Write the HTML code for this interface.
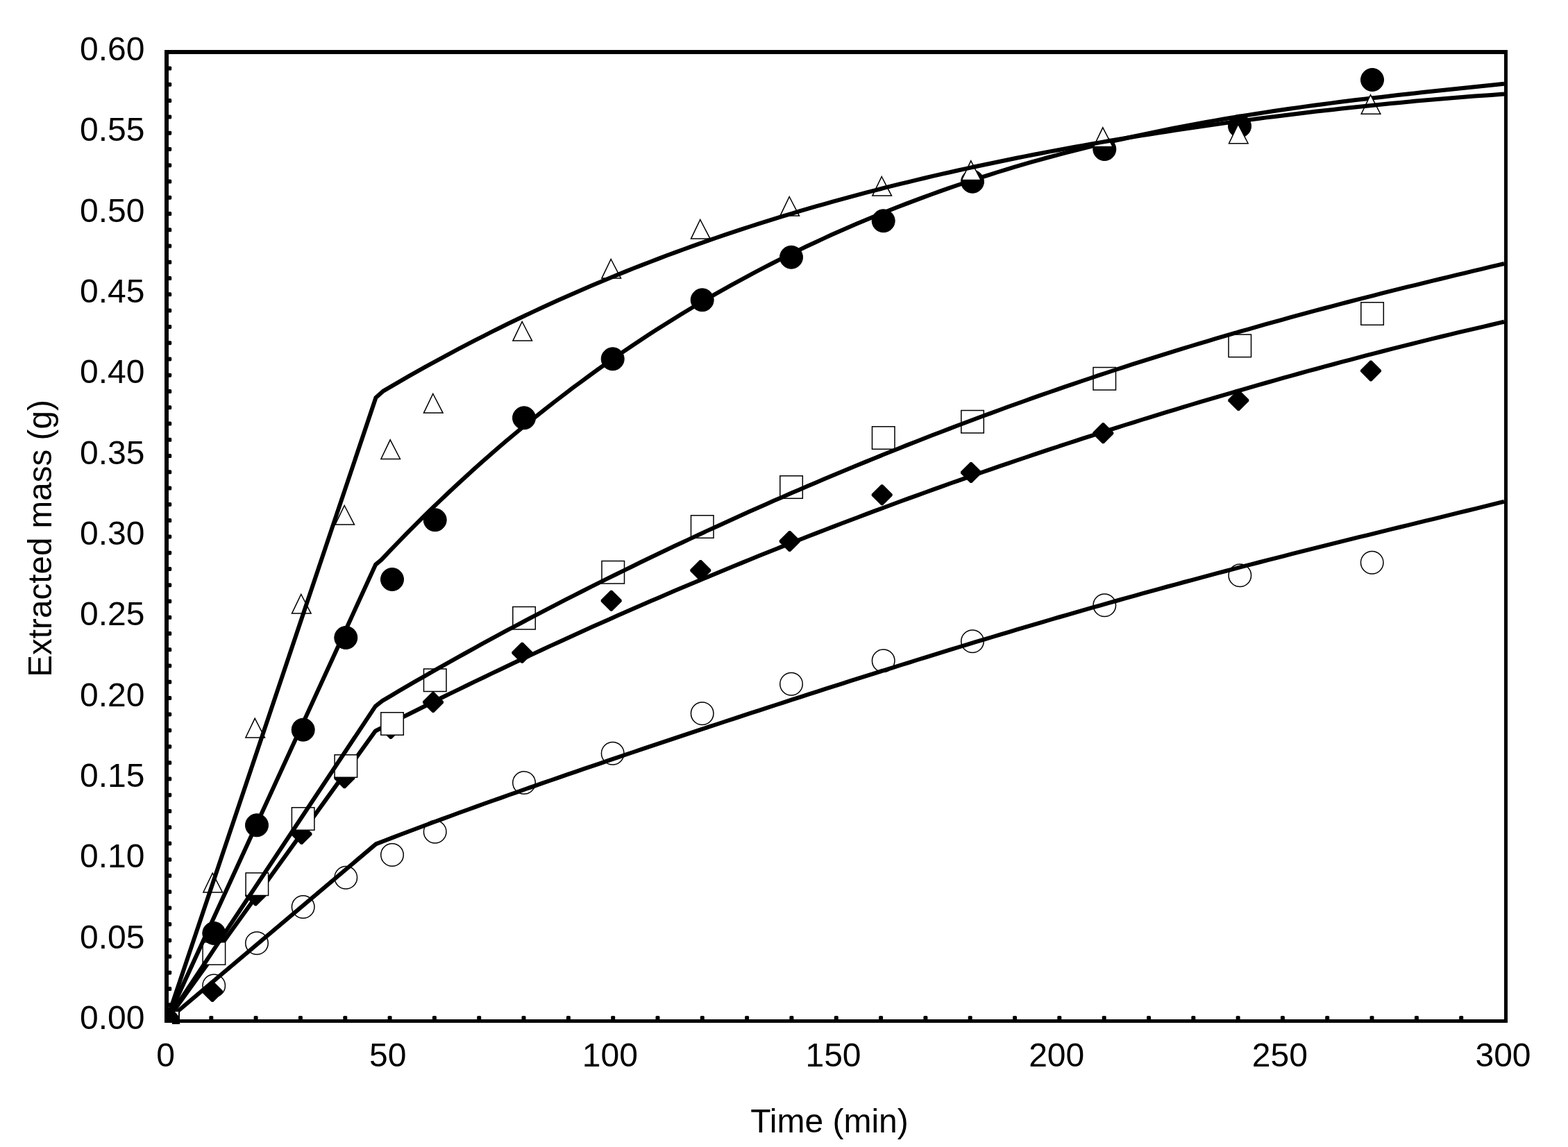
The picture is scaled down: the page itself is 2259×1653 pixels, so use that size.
<!DOCTYPE html>
<html lang="en"><head><meta charset="utf-8"><title>Extracted mass vs time</title>
<style>
html,body{margin:0;padding:0;background:#fff;}
body{width:2259px;height:1653px;overflow:hidden;}
svg{display:block;}
text{font-family:"Liberation Sans",sans-serif;fill:#000;}
</style></head>
<body>
<svg width="2259" height="1653" viewBox="0 0 2259 1653">
<rect x="0" y="0" width="2259" height="1653" fill="#fff"/>
<g font-size="48" text-anchor="end">
<text x="208.5" y="1483">0.00</text>
<text x="208.5" y="1366.7">0.05</text>
<text x="208.5" y="1250.3">0.10</text>
<text x="208.5" y="1134">0.15</text>
<text x="208.5" y="1017.7">0.20</text>
<text x="208.5" y="901.3">0.25</text>
<text x="208.5" y="785">0.30</text>
<text x="208.5" y="668.7">0.35</text>
<text x="208.5" y="552.3">0.40</text>
<text x="208.5" y="436">0.45</text>
<text x="208.5" y="319.7">0.50</text>
<text x="208.5" y="203.3">0.55</text>
<text x="208.5" y="87">0.60</text>
</g>
<g font-size="48" text-anchor="middle">
<text x="238.5" y="1537">0</text>
<text x="558.7" y="1537">50</text>
<text x="878.8" y="1537">100</text>
<text x="1200.5" y="1537">150</text>
<text x="1522.2" y="1537">200</text>
<text x="1843.8" y="1537">250</text>
<text x="2165.5" y="1537">300</text>
</g>
<text x="1195" y="1632" font-size="48" text-anchor="middle">Time (min)</text>
<text transform="translate(74 776) rotate(-90) scale(0.992 1)" font-size="48" text-anchor="middle">Extracted mass (g)</text>
<clipPath id="pc"><rect x="237" y="72" width="1936" height="1402"/></clipPath>
<g clip-path="url(#pc)">
<g fill="#fff" stroke="#000" stroke-width="1.5">
<circle cx="308.2" cy="1420.5" r="16.25"/>
<circle cx="370" cy="1359.3" r="16.25"/>
<circle cx="436.7" cy="1307" r="16.25"/>
<circle cx="498.3" cy="1264.7" r="16.25"/>
<circle cx="565" cy="1232" r="16.25"/>
<circle cx="626.7" cy="1198.7" r="16.25"/>
<circle cx="755" cy="1128" r="16.25"/>
<circle cx="882.7" cy="1085.7" r="16.25"/>
<circle cx="1011.7" cy="1028.3" r="16.25"/>
<circle cx="1140" cy="985.7" r="16.25"/>
<circle cx="1272.7" cy="952.3" r="16.25"/>
<circle cx="1401" cy="924.3" r="16.25"/>
<circle cx="1591.3" cy="872.3" r="16.25"/>
<circle cx="1786.3" cy="829.3" r="16.25"/>
<circle cx="1976.7" cy="810.7" r="16.25"/>
</g>
<path d="M240 1471L541.6 1216.4L553.6 1211.7L565.6 1207.1L577.6 1202.5L589.6 1198L601.6 1193.5L613.6 1189L625.6 1184.5L637.6 1180.1L649.6 1175.7L661.6 1171.3L673.6 1167L685.6 1162.6L697.6 1158.3L709.6 1154L721.6 1149.8L733.6 1145.5L745.6 1141.3L757.6 1137L769.6 1132.8L781.6 1128.7L793.6 1124.5L805.6 1120.3L817.6 1116.2L829.6 1112.1L841.6 1107.9L853.6 1103.8L865.6 1099.8L877.6 1095.7L889.6 1091.6L901.6 1087.5L913.6 1083.5L925.6 1079.4L937.6 1075.4L949.6 1071.4L961.6 1067.4L973.6 1063.4L985.6 1059.4L997.6 1055.4L1009.6 1051.4L1021.6 1047.4L1033.6 1043.5L1045.6 1039.5L1057.6 1035.6L1069.6 1031.6L1081.6 1027.7L1093.6 1023.8L1105.6 1019.9L1117.6 1016L1129.6 1012.1L1141.6 1008.2L1153.6 1004.3L1165.6 1000.4L1177.6 996.6L1189.6 992.7L1201.6 988.9L1213.6 985.1L1225.6 981.2L1237.6 977.4L1249.6 973.6L1261.6 969.8L1273.6 966L1285.6 962.3L1297.6 958.5L1309.6 954.8L1321.6 951L1333.6 947.3L1345.6 943.6L1357.6 939.9L1369.6 936.2L1381.6 932.5L1393.6 928.9L1405.6 925.2L1417.6 921.6L1429.6 918L1441.6 914.4L1453.6 910.8L1465.6 907.2L1477.6 903.6L1489.6 900.1L1501.6 896.6L1513.6 893L1525.6 889.5L1537.6 886.1L1549.6 882.6L1561.6 879.1L1573.6 875.7L1585.6 872.3L1597.6 868.9L1609.6 865.5L1621.6 862.1L1633.6 858.8L1645.6 855.4L1657.6 852.1L1669.6 848.8L1681.6 845.5L1693.6 842.3L1705.6 839L1717.6 835.8L1729.6 832.6L1741.6 829.4L1753.6 826.2L1765.6 823L1777.6 819.9L1789.6 816.7L1801.6 813.6L1813.6 810.5L1825.6 807.4L1837.6 804.3L1849.6 801.3L1861.6 798.2L1873.6 795.2L1885.6 792.1L1897.6 789.1L1909.6 786.1L1921.6 783.1L1933.6 780.2L1945.6 777.2L1957.6 774.2L1969.6 771.3L1981.6 768.3L1993.6 765.4L2005.6 762.4L2017.6 759.5L2029.6 756.6L2041.6 753.6L2053.6 750.7L2065.6 747.8L2077.6 744.8L2089.6 741.9L2101.6 738.9L2113.6 736L2125.6 733.1L2137.6 730.1L2149.6 727.1L2161.6 724.1L2167 722.8" fill="none" stroke="#000" stroke-width="6.0" stroke-linejoin="round" stroke-linecap="butt"/>
<g fill="#000" stroke="none">
<path d="M304.8 1414L307.2 1414L321 1427.8L321 1430.2L307.2 1444L304.8 1444L291 1430.2L291 1427.8Z"/>
<path d="M367.1 1275.5L369.5 1275.5L383.3 1289.3L383.3 1291.7L369.5 1305.5L367.1 1305.5L353.3 1291.7L353.3 1289.3Z"/>
<path d="M433.3 1187L435.7 1187L449.5 1200.8L449.5 1203.2L435.7 1217L433.3 1217L419.5 1203.2L419.5 1200.8Z"/>
<path d="M495.1 1106.2L497.5 1106.2L511.3 1120L511.3 1122.4L497.5 1136.2L495.1 1136.2L481.3 1122.4L481.3 1120Z"/>
<path d="M561.8 1035L564.2 1035L578 1048.8L578 1051.2L564.2 1065L561.8 1065L548 1051.2L548 1048.8Z"/>
<path d="M622.8 997L625.2 997L639 1010.8L639 1013.2L625.2 1027L622.8 1027L609 1013.2L609 1010.8Z"/>
<path d="M751.1 925.7L753.5 925.7L767.3 939.5L767.3 941.9L753.5 955.7L751.1 955.7L737.3 941.9L737.3 939.5Z"/>
<path d="M879.5 850.7L881.9 850.7L895.7 864.5L895.7 866.9L881.9 880.7L879.5 880.7L865.7 866.9L865.7 864.5Z"/>
<path d="M1008.1 807L1010.5 807L1024.3 820.8L1024.3 823.2L1010.5 837L1008.1 837L994.3 823.2L994.3 820.8Z"/>
<path d="M1136.5 765L1138.9 765L1152.7 778.8L1152.7 781.2L1138.9 795L1136.5 795L1122.7 781.2L1122.7 778.8Z"/>
<path d="M1269.5 698.3L1271.9 698.3L1285.7 712.1L1285.7 714.5L1271.9 728.3L1269.5 728.3L1255.7 714.5L1255.7 712.1Z"/>
<path d="M1397.8 666L1400.2 666L1414 679.8L1414 682.2L1400.2 696L1397.8 696L1384 682.2L1384 679.8Z"/>
<path d="M1588.1 609.3L1590.5 609.3L1604.3 623.1L1604.3 625.5L1590.5 639.3L1588.1 639.3L1574.3 625.5L1574.3 623.1Z"/>
<path d="M1783.1 562L1785.5 562L1799.3 575.8L1799.3 578.2L1785.5 592L1783.1 592L1769.3 578.2L1769.3 575.8Z"/>
<path d="M1973.8 519.4L1976.2 519.4L1990 533.2L1990 535.6L1976.2 549.4L1973.8 549.4L1960 535.6L1960 533.2Z"/>
</g>
<path d="M240 1471L540.8 1053.5L552.8 1047.4L564.8 1041.3L576.8 1035.2L588.8 1029.2L600.8 1023.2L612.8 1017.2L624.8 1011.3L636.8 1005.3L648.8 999.4L660.8 993.6L672.8 987.7L684.8 981.9L696.8 976.2L708.8 970.4L720.8 964.7L732.8 959L744.8 953.3L756.8 947.7L768.8 942.1L780.8 936.5L792.8 930.9L804.8 925.4L816.8 919.9L828.8 914.5L840.8 909L852.8 903.6L864.8 898.2L876.8 892.9L888.8 887.6L900.8 882.3L912.8 877L924.8 871.8L936.8 866.6L948.8 861.4L960.8 856.2L972.8 851.1L984.8 846L996.8 840.9L1008.8 835.9L1020.8 830.9L1032.8 825.9L1044.8 820.9L1056.8 816L1068.8 811.1L1080.8 806.2L1092.8 801.3L1104.8 796.5L1116.8 791.7L1128.8 786.9L1140.8 782.2L1152.8 777.5L1164.8 772.8L1176.8 768.1L1188.8 763.5L1200.8 758.9L1212.8 754.3L1224.8 749.7L1236.8 745.2L1248.8 740.6L1260.8 736.1L1272.8 731.7L1284.8 727.2L1296.8 722.8L1308.8 718.4L1320.8 714.1L1332.8 709.7L1344.8 705.4L1356.8 701.1L1368.8 696.8L1380.8 692.6L1392.8 688.4L1404.8 684.2L1416.8 680L1428.8 675.8L1440.8 671.7L1452.8 667.6L1464.8 663.5L1476.8 659.5L1488.8 655.4L1500.8 651.4L1512.8 647.4L1524.8 643.5L1536.8 639.5L1548.8 635.6L1560.8 631.7L1572.8 627.8L1584.8 624L1596.8 620.1L1608.8 616.3L1620.8 612.5L1632.8 608.8L1644.8 605L1656.8 601.3L1668.8 597.6L1680.8 593.9L1692.8 590.3L1704.8 586.6L1716.8 583L1728.8 579.4L1740.8 575.9L1752.8 572.3L1764.8 568.8L1776.8 565.3L1788.8 561.8L1800.8 558.3L1812.8 554.9L1824.8 551.5L1836.8 548.1L1848.8 544.7L1860.8 541.4L1872.8 538L1884.8 534.7L1896.8 531.5L1908.8 528.2L1920.8 525L1932.8 521.7L1944.8 518.6L1956.8 515.4L1968.8 512.2L1980.8 509.1L1992.8 506L2004.8 502.9L2016.8 499.9L2028.8 496.9L2040.8 493.9L2052.8 490.9L2064.8 487.9L2076.8 485L2088.8 482.1L2100.8 479.2L2112.8 476.4L2124.8 473.6L2136.8 470.8L2148.8 468L2160.8 465.2L2167 463.8" fill="none" stroke="#000" stroke-width="6.0" stroke-linejoin="round" stroke-linecap="butt"/>
<g fill="#fff" stroke="#000" stroke-width="1.5">
<rect x="292.1" y="1357.8" width="32.5" height="32.5"/>
<rect x="354.1" y="1258" width="32.5" height="32.5"/>
<rect x="420.4" y="1163.8" width="32.5" height="32.5"/>
<rect x="482.1" y="1087.8" width="32.5" height="32.5"/>
<rect x="548.8" y="1026.8" width="32.5" height="32.5"/>
<rect x="610.5" y="964" width="32.5" height="32.5"/>
<rect x="738.8" y="874.5" width="32.5" height="32.5"/>
<rect x="867" y="808.5" width="32.5" height="32.5"/>
<rect x="995.5" y="742.8" width="32.5" height="32.5"/>
<rect x="1123.8" y="685.8" width="32.5" height="32.5"/>
<rect x="1256.5" y="614.8" width="32.5" height="32.5"/>
<rect x="1384.8" y="591.5" width="32.5" height="32.5"/>
<rect x="1575" y="529.5" width="32.5" height="32.5"/>
<rect x="1770" y="482.1" width="32.5" height="32.5"/>
<rect x="1960.8" y="435.8" width="32.5" height="32.5"/>
</g>
<path d="M240 1471L540.8 1017.9L551 1009.9L563 1002.8L575 995.7L587 988.7L599 981.7L611 974.8L623 967.9L635 961.1L647 954.4L659 947.6L671 941L683 934.3L695 927.7L707 921.2L719 914.7L731 908.2L743 901.8L755 895.5L767 889.1L779 882.8L791 876.6L803 870.4L815 864.2L827 858.1L839 852L851 845.9L863 839.9L875 833.9L887 828L899 822.1L911 816.2L923 810.3L935 804.5L947 798.8L959 793L971 787.3L983 781.7L995 776.1L1007 770.5L1019 764.9L1031 759.4L1043 753.9L1055 748.4L1067 743L1079 737.6L1091 732.2L1103 726.9L1115 721.6L1127 716.4L1139 711.1L1151 706L1163 700.8L1175 695.7L1187 690.6L1199 685.5L1211 680.5L1223 675.5L1235 670.5L1247 665.6L1259 660.7L1271 655.8L1283 651L1295 646.2L1307 641.4L1319 636.7L1331 632L1343 627.3L1355 622.7L1367 618.1L1379 613.5L1391 609L1403 604.5L1415 600L1427 595.6L1439 591.2L1451 586.8L1463 582.5L1475 578.2L1487 573.9L1499 569.7L1511 565.5L1523 561.3L1535 557.2L1547 553.1L1559 549L1571 545L1583 540.9L1595 537L1607 533L1619 529.1L1631 525.2L1643 521.4L1655 517.6L1667 513.8L1679 510.1L1691 506.3L1703 502.6L1715 499L1727 495.4L1739 491.8L1751 488.2L1763 484.7L1775 481.2L1787 477.7L1799 474.3L1811 470.8L1823 467.4L1835 464.1L1847 460.8L1859 457.4L1871 454.2L1883 450.9L1895 447.7L1907 444.5L1919 441.3L1931 438.2L1943 435L1955 431.9L1967 428.8L1979 425.8L1991 422.7L2003 419.7L2015 416.7L2027 413.7L2039 410.8L2051 407.8L2063 404.9L2075 402L2087 399.1L2099 396.2L2111 393.3L2123 390.4L2135 387.6L2147 384.7L2159 381.9L2167 380" fill="none" stroke="#000" stroke-width="6.0" stroke-linejoin="round" stroke-linecap="butt"/>
<g fill="#000" stroke="#000" stroke-width="1">
<circle cx="308.3" cy="1345" r="16.5"/>
<circle cx="370" cy="1189.3" r="16.5"/>
<circle cx="436.7" cy="1051.7" r="16.5"/>
<circle cx="498.3" cy="919" r="16.5"/>
<circle cx="565" cy="835" r="16.5"/>
<circle cx="626.7" cy="749.3" r="16.5"/>
<circle cx="755" cy="602.3" r="16.5"/>
<circle cx="882.7" cy="517.3" r="16.5"/>
<circle cx="1011.7" cy="432.3" r="16.5"/>
<circle cx="1140" cy="370.7" r="16.5"/>
<circle cx="1272.7" cy="318.3" r="16.5"/>
<circle cx="1401" cy="261.7" r="16.5"/>
<circle cx="1591.3" cy="215" r="16.5"/>
<circle cx="1786" cy="181.7" r="16.5"/>
<circle cx="1977" cy="115" r="16.5"/>
</g>
<path d="M240 1471L541.2 813.6L549.6 806.6L561.6 793.9L573.6 781.5L585.6 769.2L597.6 757.1L609.6 745.2L621.6 733.4L633.6 721.9L645.6 710.5L657.6 699.3L669.6 688.2L681.6 677.3L693.6 666.6L705.6 656L717.6 645.6L729.6 635.3L741.6 625.2L753.6 615.3L765.6 605.5L777.6 595.8L789.6 586.3L801.6 577L813.6 567.8L825.6 558.7L837.6 549.8L849.6 541L861.6 532.3L873.6 523.8L885.6 515.4L897.6 507.1L909.6 499L921.6 491L933.6 483.1L945.6 475.3L957.6 467.7L969.6 460.2L981.6 452.8L993.6 445.5L1005.6 438.3L1017.6 431.3L1029.6 424.4L1041.6 417.6L1053.6 410.8L1065.6 404.3L1077.6 397.8L1089.6 391.4L1101.6 385.1L1113.6 379L1125.6 372.9L1137.6 366.9L1149.6 361.1L1161.6 355.3L1173.6 349.7L1185.6 344.1L1197.6 338.6L1209.6 333.3L1221.6 328L1233.6 322.8L1245.6 317.7L1257.6 312.7L1269.6 307.8L1281.6 303L1293.6 298.3L1305.6 293.6L1317.6 289.1L1329.6 284.6L1341.6 280.2L1353.6 275.9L1365.6 271.7L1377.6 267.5L1389.6 263.5L1401.6 259.5L1413.6 255.6L1425.6 251.8L1437.6 248L1449.6 244.3L1461.6 240.7L1473.6 237.2L1485.6 233.7L1497.6 230.4L1509.6 227L1521.6 223.8L1533.6 220.6L1545.6 217.5L1557.6 214.5L1569.6 211.5L1581.6 208.6L1593.6 205.7L1605.6 202.9L1617.6 200.2L1629.6 197.5L1641.6 194.9L1653.6 192.4L1665.6 189.9L1677.6 187.4L1689.6 185L1701.6 182.7L1713.6 180.4L1725.6 178.2L1737.6 176L1749.6 173.9L1761.6 171.8L1773.6 169.8L1785.6 167.8L1797.6 165.9L1809.6 164L1821.6 162.1L1833.6 160.3L1845.6 158.5L1857.6 156.8L1869.6 155.1L1881.6 153.4L1893.6 151.8L1905.6 150.2L1917.6 148.6L1929.6 147.1L1941.6 145.6L1953.6 144.1L1965.6 142.7L1977.6 141.3L1989.6 139.9L2001.6 138.5L2013.6 137.1L2025.6 135.8L2037.6 134.5L2049.6 133.1L2061.6 131.8L2073.6 130.6L2085.6 129.3L2097.6 128L2109.6 126.8L2121.6 125.5L2133.6 124.2L2145.6 123L2157.6 121.7L2167 120.8" fill="none" stroke="#000" stroke-width="6.0" stroke-linejoin="round" stroke-linecap="butt"/>
<g fill="#fff" stroke="#000" stroke-width="1.5" stroke-linejoin="miter">
<path d="M306.2 1258.3L320.5 1285.9L292.9 1285.9Z"/>
<path d="M367.2 1035.3L381.5 1062.9L353.9 1062.9Z"/>
<path d="M433.8 856.5L448.1 884.1L420.5 884.1Z"/>
<path d="M496.2 728.5L510.5 756.1L482.9 756.1Z"/>
<path d="M562.2 633.8L576.5 661.4L548.9 661.4Z"/>
<path d="M623.8 567.5L638.1 595.1L610.5 595.1Z"/>
<path d="M752.2 463.5L766.5 491.1L738.9 491.1Z"/>
<path d="M880.2 373.5L894.5 401.1L866.9 401.1Z"/>
<path d="M1008.8 316.5L1023.1 344.1L995.5 344.1Z"/>
<path d="M1137.2 283.5L1151.5 311.1L1123.9 311.1Z"/>
<path d="M1270.2 254.5L1284.5 282.1L1256.9 282.1Z"/>
<path d="M1398.8 231.8L1413.1 259.4L1385.5 259.4Z"/>
<path d="M1588.8 183.8L1603.1 211.4L1575.5 211.4Z"/>
<path d="M1783.8 179.1L1798.1 206.7L1770.5 206.7Z"/>
<path d="M1974.5 136.6L1988.8 164.2L1961.2 164.2Z"/>
</g>
<path d="M240 1471L541.5 573L552.5 563.3L564.5 556.3L576.5 549.3L588.5 542.4L600.5 535.6L612.5 528.9L624.5 522.3L636.5 515.8L648.5 509.3L660.5 502.9L672.5 496.6L684.5 490.4L696.5 484.3L708.5 478.2L720.5 472.2L732.5 466.3L744.5 460.5L756.5 454.8L768.5 449.1L780.5 443.5L792.5 438L804.5 432.6L816.5 427.2L828.5 421.9L840.5 416.7L852.5 411.5L864.5 406.5L876.5 401.5L888.5 396.5L900.5 391.6L912.5 386.8L924.5 382.1L936.5 377.5L948.5 372.9L960.5 368.3L972.5 363.9L984.5 359.5L996.5 355.1L1008.5 350.9L1020.5 346.6L1032.5 342.5L1044.5 338.4L1056.5 334.4L1068.5 330.4L1080.5 326.5L1092.5 322.6L1104.5 318.8L1116.5 315.1L1128.5 311.4L1140.5 307.8L1152.5 304.2L1164.5 300.7L1176.5 297.2L1188.5 293.8L1200.5 290.4L1212.5 287.1L1224.5 283.8L1236.5 280.6L1248.5 277.4L1260.5 274.3L1272.5 271.2L1284.5 268.2L1296.5 265.2L1308.5 262.3L1320.5 259.4L1332.5 256.5L1344.5 253.7L1356.5 250.9L1368.5 248.2L1380.5 245.5L1392.5 242.9L1404.5 240.3L1416.5 237.7L1428.5 235.2L1440.5 232.7L1452.5 230.2L1464.5 227.8L1476.5 225.4L1488.5 223L1500.5 220.7L1512.5 218.4L1524.5 216.2L1536.5 214L1548.5 211.8L1560.5 209.6L1572.5 207.5L1584.5 205.4L1596.5 203.3L1608.5 201.3L1620.5 199.3L1632.5 197.3L1644.5 195.4L1656.5 193.5L1668.5 191.6L1680.5 189.7L1692.5 187.9L1704.5 186.1L1716.5 184.3L1728.5 182.5L1740.5 180.8L1752.5 179.1L1764.5 177.4L1776.5 175.8L1788.5 174.2L1800.5 172.6L1812.5 171L1824.5 169.4L1836.5 167.9L1848.5 166.4L1860.5 164.9L1872.5 163.4L1884.5 162L1896.5 160.6L1908.5 159.2L1920.5 157.9L1932.5 156.5L1944.5 155.2L1956.5 153.9L1968.5 152.7L1980.5 151.4L1992.5 150.2L2004.5 149L2016.5 147.9L2028.5 146.7L2040.5 145.6L2052.5 144.5L2064.5 143.5L2076.5 142.5L2088.5 141.4L2100.5 140.5L2112.5 139.5L2124.5 138.6L2136.5 137.7L2148.5 136.9L2160.5 136L2167 135.6" fill="none" stroke="#000" stroke-width="6.0" stroke-linejoin="round" stroke-linecap="butt"/>
</g>
<path d="M243 1458H259V1476H248V1474H243Z" fill="#000"/>
<path d="M252 1458H257V1464Z" fill="#fff"/>
<g fill="#000">
<rect x="240" y="1445.2" width="7.2" height="6" rx="1.6"/><rect x="240" y="1422" width="7.2" height="6" rx="1.6"/><rect x="240" y="1398.7" width="7.2" height="6" rx="1.6"/><rect x="240" y="1375.4" width="7.2" height="6" rx="1.6"/><rect x="240" y="1352.2" width="7.2" height="6" rx="1.6"/><rect x="240" y="1328.9" width="7.2" height="6" rx="1.6"/><rect x="240" y="1305.6" width="7.2" height="6" rx="1.6"/><rect x="240" y="1282.3" width="7.2" height="6" rx="1.6"/><rect x="240" y="1259.1" width="7.2" height="6" rx="1.6"/><rect x="240" y="1235.8" width="7.2" height="6" rx="1.6"/><rect x="240" y="1212.5" width="7.2" height="6" rx="1.6"/><rect x="240" y="1189.3" width="7.2" height="6" rx="1.6"/><rect x="240" y="1166" width="7.2" height="6" rx="1.6"/><rect x="240" y="1142.7" width="7.2" height="6" rx="1.6"/><rect x="240" y="1119.5" width="7.2" height="6" rx="1.6"/><rect x="240" y="1096.2" width="7.2" height="6" rx="1.6"/><rect x="240" y="1072.9" width="7.2" height="6" rx="1.6"/><rect x="240" y="1049.6" width="7.2" height="6" rx="1.6"/><rect x="240" y="1026.4" width="7.2" height="6" rx="1.6"/><rect x="240" y="1003.1" width="7.2" height="6" rx="1.6"/><rect x="240" y="979.8" width="7.2" height="6" rx="1.6"/><rect x="240" y="956.6" width="7.2" height="6" rx="1.6"/><rect x="240" y="933.3" width="7.2" height="6" rx="1.6"/><rect x="240" y="910" width="7.2" height="6" rx="1.6"/><rect x="240" y="886.8" width="7.2" height="6" rx="1.6"/><rect x="240" y="863.5" width="7.2" height="6" rx="1.6"/><rect x="240" y="840.2" width="7.2" height="6" rx="1.6"/><rect x="240" y="816.9" width="7.2" height="6" rx="1.6"/><rect x="240" y="793.7" width="7.2" height="6" rx="1.6"/><rect x="240" y="770.4" width="7.2" height="6" rx="1.6"/><rect x="240" y="747.1" width="7.2" height="6" rx="1.6"/><rect x="240" y="723.9" width="7.2" height="6" rx="1.6"/><rect x="240" y="700.6" width="7.2" height="6" rx="1.6"/><rect x="240" y="677.3" width="7.2" height="6" rx="1.6"/><rect x="240" y="654.1" width="7.2" height="6" rx="1.6"/><rect x="240" y="630.8" width="7.2" height="6" rx="1.6"/><rect x="240" y="607.5" width="7.2" height="6" rx="1.6"/><rect x="240" y="584.2" width="7.2" height="6" rx="1.6"/><rect x="240" y="561" width="7.2" height="6" rx="1.6"/><rect x="240" y="537.7" width="7.2" height="6" rx="1.6"/><rect x="240" y="514.4" width="7.2" height="6" rx="1.6"/><rect x="240" y="491.2" width="7.2" height="6" rx="1.6"/><rect x="240" y="467.9" width="7.2" height="6" rx="1.6"/><rect x="240" y="444.6" width="7.2" height="6" rx="1.6"/><rect x="240" y="421.3" width="7.2" height="6" rx="1.6"/><rect x="240" y="398.1" width="7.2" height="6" rx="1.6"/><rect x="240" y="374.8" width="7.2" height="6" rx="1.6"/><rect x="240" y="351.5" width="7.2" height="6" rx="1.6"/><rect x="240" y="328.3" width="7.2" height="6" rx="1.6"/><rect x="240" y="305" width="7.2" height="6" rx="1.6"/><rect x="240" y="281.7" width="7.2" height="6" rx="1.6"/><rect x="240" y="258.5" width="7.2" height="6" rx="1.6"/><rect x="240" y="235.2" width="7.2" height="6" rx="1.6"/><rect x="240" y="211.9" width="7.2" height="6" rx="1.6"/><rect x="240" y="188.7" width="7.2" height="6" rx="1.6"/><rect x="240" y="165.4" width="7.2" height="6" rx="1.6"/><rect x="240" y="142.1" width="7.2" height="6" rx="1.6"/><rect x="240" y="118.8" width="7.2" height="6" rx="1.6"/><rect x="240" y="95.6" width="7.2" height="6" rx="1.6"/>
<rect x="301.3" y="1464" width="6" height="7" rx="1.6"/><rect x="365.6" y="1464" width="6" height="7" rx="1.6"/><rect x="429.9" y="1464" width="6" height="7" rx="1.6"/><rect x="494.3" y="1464" width="6" height="7" rx="1.6"/><rect x="558.6" y="1464" width="6" height="7" rx="1.6"/><rect x="622.9" y="1464" width="6" height="7" rx="1.6"/><rect x="687.2" y="1464" width="6" height="7" rx="1.6"/><rect x="751.5" y="1464" width="6" height="7" rx="1.6"/><rect x="815.9" y="1464" width="6" height="7" rx="1.6"/><rect x="880.2" y="1464" width="6" height="7" rx="1.6"/><rect x="944.5" y="1464" width="6" height="7" rx="1.6"/><rect x="1008.8" y="1464" width="6" height="7" rx="1.6"/><rect x="1073.1" y="1464" width="6" height="7" rx="1.6"/><rect x="1137.4" y="1464" width="6" height="7" rx="1.6"/><rect x="1201.8" y="1464" width="6" height="7" rx="1.6"/><rect x="1266.1" y="1464" width="6" height="7" rx="1.6"/><rect x="1330.4" y="1464" width="6" height="7" rx="1.6"/><rect x="1394.7" y="1464" width="6" height="7" rx="1.6"/><rect x="1459" y="1464" width="6" height="7" rx="1.6"/><rect x="1523.3" y="1464" width="6" height="7" rx="1.6"/><rect x="1587.7" y="1464" width="6" height="7" rx="1.6"/><rect x="1652" y="1464" width="6" height="7" rx="1.6"/><rect x="1716.3" y="1464" width="6" height="7" rx="1.6"/><rect x="1780.6" y="1464" width="6" height="7" rx="1.6"/><rect x="1844.9" y="1464" width="6" height="7" rx="1.6"/><rect x="1909.2" y="1464" width="6" height="7" rx="1.6"/><rect x="1973.5" y="1464" width="6" height="7" rx="1.6"/><rect x="2037.9" y="1464" width="6" height="7" rx="1.6"/><rect x="2102.2" y="1464" width="6" height="7" rx="1.6"/>
</g>
<path fill="#000" fill-rule="evenodd" d="M237 72H2172V1474H237ZM243 78V1469H2167V78Z"/>
</svg>
</body></html>
